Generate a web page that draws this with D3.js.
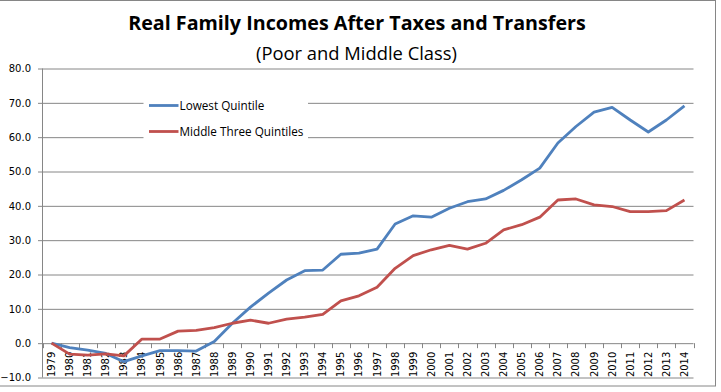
<!DOCTYPE html>
<html>
<head>
<meta charset="utf-8">
<script src="https://cdn.jsdelivr.net/npm/d3@7"></script>
<style>
  html, body { margin: 0; padding: 0; background: #fff; }
  svg { display: block; }
</style>
</head>
<body>
<svg id="chart" width="721" height="392"></svg>
<script>
const years = ["1979","1980","1981","1982","1983","1984","1985","1986","1987","1988",
  "1989","1990","1991","1992","1993","1994","1995","1996","1997","1998",
  "1999","2000","2001","2002","2003","2004","2005","2006","2007","2008",
  "2009","2010","2011","2012","2013","2014"];
const lowestQuintile = [0, -1.3, -2.0, -3.0, -5.4, -3.7, -2.2, -2.2, -2.3, 0.5,
  5.8, 10.5, 14.6, 18.4, 21.1, 21.3, 25.9, 26.2, 27.4, 34.7,
  37.1, 36.7, 39.3, 41.2, 42.0, 44.5, 47.6, 51.0, 58.3, 63.1,
  67.3, 68.7, 65.0, 61.5, 65.0, 69.1];
const middleThree = [0, -3.2, -3.5, -3.1, -3.7, 1.2, 1.2, 3.5, 3.7, 4.5,
  5.8, 6.7, 5.8, 7.0, 7.6, 8.4, 12.3, 13.8, 16.3, 21.8,
  25.5, 27.2, 28.5, 27.4, 29.1, 33.0, 34.5, 36.7, 41.7, 42.0,
  40.3, 39.8, 38.3, 38.3, 38.6, 41.7];
const yTicks = [-10, 0, 10, 20, 30, 40, 50, 60, 70, 80];
const seriesNames = ["Lowest Quintile", "Middle Three Quintiles"];
const titleText = "Real Family Incomes After Taxes and Transfers";
const subtitleText = "(Poor and Middle Class)";

const svg = d3.select("#chart");
const grid = "#868686";
const colors = ["#4F81BD", "#C0504D"];

// outer border
svg.append("rect").attr("x", -1).attr("y", 0.5).attr("width", 716.5).attr("height", 385.5)
  .attr("fill", "#fff").attr("stroke", grid).attr("stroke-width", 1);

const x = d3.scaleBand().domain(years).range([42.5, 693.5]);
const y = d3.scaleLinear().domain([-10, 80]).range([377.5, 68.5]);
const cx = d => x(d) + x.bandwidth() / 2;

function fit(sel, target) {
  const len = sel.node().getComputedTextLength();
  const fs = parseFloat(sel.attr("font-size"));
  sel.attr("font-size", fs * target / len);
}

// title
const t1 = svg.append("text").attr("x", 357).attr("y", 29.5).attr("text-anchor", "middle")
  .attr("font-family", "'Open Sans', sans-serif").attr("font-weight", "bold")
  .attr("font-size", 16).attr("fill", "#000").text(titleText);
fit(t1, 458);
const t2 = svg.append("text").attr("x", 356.5).attr("y", 60).attr("text-anchor", "middle")
  .attr("font-family", "'Open Sans', sans-serif")
  .attr("font-size", 16).attr("fill", "#000").text(subtitleText);
fit(t2, 201);

// gridlines
const ya = d3.axisLeft(y).tickValues(yTicks).tickSize(-(693.5 - 42.5) - 0).tickPadding(11)
  .tickFormat(d3.format(".1f"));
const gy = svg.append("g").attr("transform", "translate(42.5,0)").call(ya);
gy.select(".domain").remove();
gy.selectAll(".tick line").attr("stroke", grid).attr("x1", -4.5).attr("x2", 693.5 - 42.5);
gy.selectAll(".tick text").attr("font-family", "'DejaVu Sans', sans-serif")
  .attr("font-size", 10).attr("fill", "#000").attr("x", -11.5);

// y axis line
svg.append("line").attr("x1", 42.5).attr("x2", 42.5).attr("y1", y(80)).attr("y2", y(-10))
  .attr("stroke", grid);

// x axis at zero with ticks at category boundaries
const y0 = Math.round(y(0)) + 0.5;
svg.append("g").selectAll("line").data(years.concat(["end"])).join("line")
  .attr("x1", (d, i) => Math.round(x.range()[0] + i * x.step()) + 0.5)
  .attr("x2", (d, i) => Math.round(x.range()[0] + i * x.step()) + 0.5)
  .attr("y1", y(0)).attr("y2", y(0) + 5)
  .attr("stroke", grid);

// x labels, rotated
svg.append("g").selectAll("text").data(years).join("text")
  .attr("transform", d => `translate(${cx(d) + 3.5},${y(0) + 8.5}) rotate(-90)`)
  .attr("text-anchor", "end")
  .attr("font-family", "'DejaVu Sans', sans-serif").attr("font-size", 10).attr("fill", "#000")
  .text(d => d);

// legend background (hides gridlines)
svg.append("rect").attr("x", 143.5).attr("y", 92).attr("width", 164.5).attr("height", 50)
  .attr("fill", "#fff");

// lines
const line = d3.line().x((d, i) => cx(years[i])).y(d => y(d));
[lowestQuintile, middleThree].forEach((s, k) => {
  svg.append("path").datum(s).attr("d", line).attr("fill", "none")
    .attr("stroke", colors[k]).attr("stroke-width", 2.8)
    .attr("stroke-linejoin", "round").attr("stroke-linecap", "butt");
});

// legend
const legY = [105.5, 131.5];
let legTexts = [];
seriesNames.forEach((n, k) => {
  svg.append("line").attr("x1", 149).attr("x2", 178.5).attr("y1", legY[k]).attr("y2", legY[k])
    .attr("stroke", colors[k]).attr("stroke-width", 2.8);
  legTexts.push(svg.append("text").attr("x", 179.5).attr("y", legY[k] + 4)
    .attr("font-family", "'Open Sans', sans-serif").attr("font-size", 11).attr("fill", "#000")
    .text(n));
});
const l2 = legTexts[1].node().getComputedTextLength();
const lfs = 11 * 124 / l2;
legTexts.forEach(t => t.attr("font-size", lfs));
</script>
</body>
</html>
